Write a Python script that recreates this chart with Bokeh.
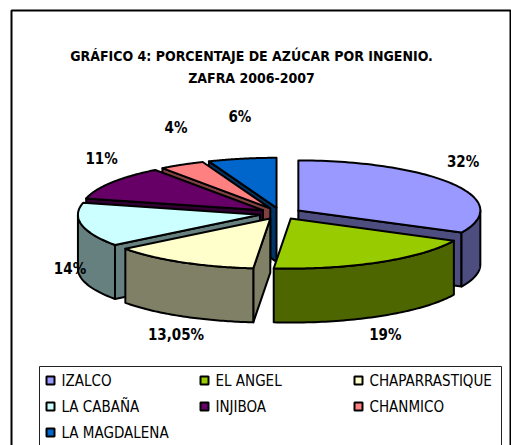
import numpy as np
from bokeh.plotting import figure
from bokeh.models import Range1d
from bokeh.core.properties import value
from bokeh.embed import file_html
from bokeh.resources import INLINE

# ---------------- data ----------------
title_lines = ["GRÁFICO 4: PORCENTAJE DE AZÚCAR POR INGENIO.", "ZAFRA 2006-2007"]
categories = ["IZALCO", "EL ANGEL", "CHAPARRASTIQUE", "LA CABAÑA", "INJIBOA", "CHANMICO", "LA MAGDALENA"]
values_pct = [32, 19, 13.05, 14, 11, 4, 6]
value_labels = ["32%", "19%", "13,05%", "14%", "11%", "4%", "6%"]
top_colors = ["#9999FF", "#99CC00", "#FFFFCC", "#CCFFFF", "#660066", "#FF8080", "#0066CC"]
side_colors = ["#4D4D80", "#4D6600", "#808066", "#668080", "#330033", "#804040", "#003366"]

FONT = "DejaVu Sans Condensed"

W, H = 511, 445
p = figure(width=W, height=H, x_range=Range1d(0, W), y_range=Range1d(H, 0),
           output_backend="svg", toolbar_location=None, min_border=0)
p.axis.visible = False
p.grid.visible = False
p.outline_line_color = None
p.background_fill_color = "white"
p.border_fill_color = "white"

# chart frame
p.quad(left=11, right=510, top=10, bottom=470, fill_color=None, line_color="black", line_width=2)

# title
p.text(x=[251, 251], y=[55.5, 77.5], text=title_lines, text_font=value(FONT),
       text_font_size="14px", text_font_style="bold", text_align="center",
       text_baseline="middle", text_color="black")

# ---------------- 3D exploded pie ----------------
cx, cy = 280.0, 213.0
rx, ry = 182.0, 50.0
depth = 54.0
ex, ey = 21.0, 5.8

vals = np.array(values_pct, dtype=float)
cum = np.concatenate([[0.0], np.cumsum(vals)])
angles = cum / cum[-1] * 360.0


def pt(theta_deg, ox, oy):
    t = np.radians(theta_deg)
    return cx + ox + rx * np.sin(t), cy + oy - ry * np.cos(t)


slices = []
for i in range(len(vals)):
    a0, a1 = angles[i], angles[i + 1]
    m = np.radians((a0 + a1) / 2)
    ox, oy = ex * np.sin(m), -ey * np.cos(m)
    pieces = []
    # radial walls facing the viewer
    if np.sin(np.radians(a0)) < -1e-9:
        x1, y1 = pt(a0, ox, oy)
        pieces.append(([cx + ox, x1, x1, cx + ox],
                       [cy + oy, y1, y1 + depth, cy + oy + depth], side_colors[i]))
    if np.sin(np.radians(a1)) > 1e-9:
        x1, y1 = pt(a1, ox, oy)
        pieces.append(([cx + ox, x1, x1, cx + ox],
                       [cy + oy, y1, y1 + depth, cy + oy + depth], side_colors[i]))
    # outer curved wall (front half only)
    lo, hi = max(a0, 90.0), min(a1, 270.0)
    if hi > lo:
        th = np.linspace(lo, hi, 60)
        xt, yt = pt(th, ox, oy)
        pieces.append((list(xt) + list(xt[::-1]),
                       list(yt) + list((yt + depth)[::-1]), side_colors[i]))
    # top face
    th = np.linspace(a0, a1, 80)
    xt, yt = pt(th, ox, oy)
    pieces.append(([cx + ox] + list(xt), [cy + oy] + list(yt), top_colors[i]))
    slices.append((-np.cos(m), pieces))

slices.sort(key=lambda s: s[0])
xs, ys, cols = [], [], []
for _, pieces in slices:
    for px, py, c in pieces:
        xs.append(px)
        ys.append(py)
        cols.append(c)

p.patches(xs=xs, ys=ys, fill_color=cols, line_color="black", line_width=2, line_join="round")

# value labels
mids = np.radians((angles[:-1] + angles[1:]) / 2)
lx = cx + 215 * np.sin(mids)
ly = cy - 98 * np.cos(mids) + np.where(np.cos(mids) < 0, 36, 0)
p.text(x=list(lx), y=list(ly), text=value_labels, text_font=value(FONT),
       text_font_size="15px", text_font_style="bold", text_align="center",
       text_baseline="middle", text_color="black")

# ---------------- legend ----------------
p.quad(left=39, right=501, top=366, bottom=470, fill_color="white", line_color="#222222", line_width=1)
idx = np.arange(len(categories))
sq_x = 46 + (idx % 3) * 154
row_y = 380 + (idx // 3) * 26
p.rect(x=list(sq_x + 4), y=list(row_y), width=8, height=8, fill_color=top_colors,
       line_color="black", line_width=2)
p.text(x=list(sq_x + 15), y=list(row_y), text=categories, text_font=value(FONT),
       text_font_size="15px", text_align="left", text_baseline="middle", text_color="black")

open("out.html", "w").write(file_html(p, INLINE))
